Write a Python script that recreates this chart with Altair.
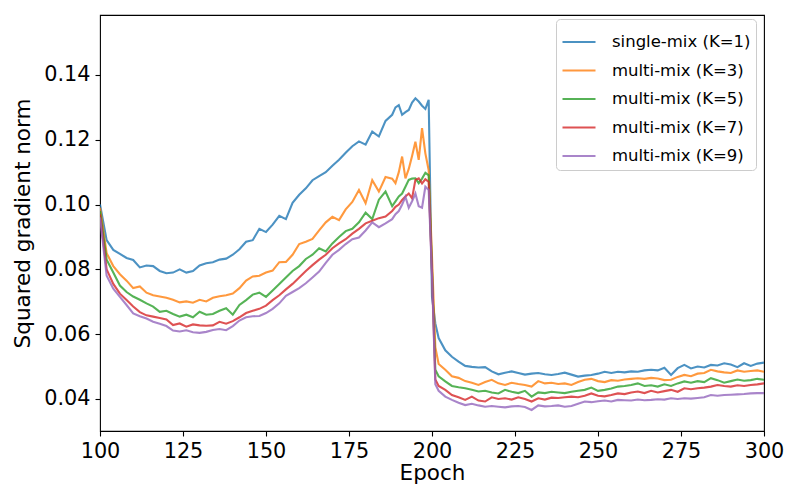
import altair as alt
import pandas as pd

epochs = list(range(100, 188, 2)) + list(range(188, 203)) + list(range(204, 301, 2))

k1 = [
    0.1000, 0.0890, 0.0860, 0.0848, 0.0835, 0.0829, 0.0806, 0.0812, 0.0810, 0.0795,
    0.0788, 0.0790, 0.0800, 0.0790, 0.0795, 0.0812, 0.0819, 0.0822, 0.0830, 0.0833,
    0.0845, 0.0862, 0.0885, 0.0890, 0.0925, 0.0915, 0.0938, 0.0965, 0.0955, 0.1005,
    0.1030, 0.1050, 0.1075, 0.1088, 0.1100, 0.1120, 0.1138, 0.1160, 0.1180, 0.1195,
    0.1185, 0.1225, 0.1210, 0.1258,
    0.1277, 0.1300, 0.1307, 0.1277, 0.1285, 0.1292, 0.1315, 0.1328, 0.1318, 0.1305,
    0.1295, 0.1323, 0.0715, 0.0633, 0.0588,
    0.0550, 0.0530, 0.0515, 0.0502, 0.0499, 0.0497, 0.0498, 0.0485, 0.0476, 0.0481,
    0.0485, 0.0480, 0.0475, 0.0478, 0.0480, 0.0476, 0.0474, 0.0477, 0.0481, 0.0475,
    0.0469, 0.0472, 0.0474, 0.0478, 0.0484, 0.0480, 0.0484, 0.0482, 0.0485, 0.0484,
    0.0488, 0.0490, 0.0488, 0.0496, 0.0474, 0.0495, 0.0505, 0.0494, 0.0500, 0.0497,
    0.0505, 0.0503, 0.0510, 0.0506, 0.0498, 0.0510, 0.0502, 0.0509, 0.0512,
]

k3 = [
    0.0990, 0.0850, 0.0810, 0.0785, 0.0765, 0.0742, 0.0747, 0.0728, 0.0720, 0.0716,
    0.0712, 0.0706, 0.0698, 0.0701, 0.0697, 0.0706, 0.0701, 0.0712, 0.0717, 0.0720,
    0.0725, 0.0742, 0.0765, 0.0778, 0.0780, 0.0790, 0.0796, 0.0822, 0.0823, 0.0845,
    0.0878, 0.0885, 0.0894, 0.0920, 0.0945, 0.0962, 0.0952, 0.0985, 0.1008, 0.1045,
    0.1004, 0.1075, 0.1040, 0.1085,
    0.1080, 0.1066, 0.1100, 0.1148, 0.1081, 0.1110, 0.1150, 0.1194, 0.1138, 0.1236,
    0.1158, 0.1106, 0.0838, 0.0560, 0.0508,
    0.0490, 0.0470, 0.0465, 0.0455, 0.0450, 0.0443, 0.0452, 0.0459, 0.0448, 0.0443,
    0.0450, 0.0446, 0.0443, 0.0438, 0.0455, 0.0448, 0.0450, 0.0446, 0.0448, 0.0443,
    0.0452, 0.0459, 0.0462, 0.0455, 0.0452, 0.0458, 0.0456, 0.0460, 0.0462, 0.0464,
    0.0462, 0.0465, 0.0463, 0.0458, 0.0459, 0.0468, 0.0474, 0.0470, 0.0478, 0.0480,
    0.0490, 0.0485, 0.0482, 0.0480, 0.0488, 0.0484, 0.0486, 0.0488, 0.0484,
]

k5 = [
    0.0980, 0.0830, 0.0790, 0.0750, 0.0730, 0.0716, 0.0706, 0.0695, 0.0685, 0.0669,
    0.0672, 0.0662, 0.0654, 0.0660, 0.0652, 0.0669, 0.0660, 0.0662, 0.0672, 0.0680,
    0.0660, 0.0690, 0.0705, 0.0722, 0.0728, 0.0715, 0.0735, 0.0755, 0.0775, 0.0795,
    0.0810, 0.0832, 0.0845, 0.0865, 0.0855, 0.0880, 0.0900, 0.0918, 0.0925, 0.0945,
    0.0975, 0.0955, 0.1015, 0.1040,
    0.0995, 0.1010, 0.1025, 0.1034, 0.1055, 0.1076, 0.1080, 0.1081, 0.1066, 0.1080,
    0.1098, 0.1090, 0.0800, 0.0490, 0.0470,
    0.0454, 0.0440, 0.0436, 0.0433, 0.0428, 0.0423, 0.0425, 0.0420, 0.0417, 0.0428,
    0.0422, 0.0418, 0.0425, 0.0407, 0.0420, 0.0418, 0.0422, 0.0420, 0.0418, 0.0422,
    0.0425, 0.0428, 0.0435, 0.0425, 0.0428, 0.0432, 0.0438, 0.0440, 0.0443, 0.0448,
    0.0440, 0.0442, 0.0438, 0.0445, 0.0440, 0.0448, 0.0454, 0.0450, 0.0455, 0.0452,
    0.0464, 0.0458, 0.0450, 0.0455, 0.0460, 0.0456, 0.0458, 0.0462, 0.0459,
]

k7 = [
    0.0970, 0.0800, 0.0755, 0.0725, 0.0705, 0.0685, 0.0668, 0.0658, 0.0654, 0.0650,
    0.0645, 0.0628, 0.0633, 0.0623, 0.0630, 0.0627, 0.0626, 0.0627, 0.0638, 0.0632,
    0.0640, 0.0652, 0.0665, 0.0672, 0.0678, 0.0688, 0.0705, 0.0720, 0.0738, 0.0755,
    0.0775, 0.0795, 0.0813, 0.0830, 0.0845, 0.0865, 0.0880, 0.0893, 0.0910, 0.0925,
    0.0942, 0.0950, 0.0958, 0.0963,
    0.0980, 0.0993, 0.1000, 0.1014, 0.1025, 0.1034, 0.1019, 0.1076, 0.1081, 0.1065,
    0.1078, 0.1070, 0.0790, 0.0460, 0.0440,
    0.0428, 0.0412, 0.0405, 0.0397, 0.0407, 0.0395, 0.0392, 0.0405, 0.0400, 0.0402,
    0.0398, 0.0405, 0.0400, 0.0392, 0.0402, 0.0398, 0.0404, 0.0403, 0.0405, 0.0407,
    0.0405, 0.0410, 0.0417, 0.0410, 0.0408, 0.0412, 0.0417, 0.0415, 0.0420, 0.0423,
    0.0418, 0.0425, 0.0420, 0.0424, 0.0428, 0.0422, 0.0433, 0.0430, 0.0433, 0.0435,
    0.0438, 0.0443, 0.0440, 0.0438, 0.0442, 0.0440, 0.0443, 0.0445, 0.0448,
]

k9 = [
    0.0960, 0.0780, 0.0740, 0.0715, 0.0690, 0.0664, 0.0655, 0.0648, 0.0638, 0.0632,
    0.0625, 0.0611, 0.0608, 0.0612, 0.0606, 0.0604, 0.0607, 0.0613, 0.0616, 0.0612,
    0.0625, 0.0642, 0.0652, 0.0655, 0.0656, 0.0665, 0.0678, 0.0695, 0.0718, 0.0730,
    0.0742, 0.0757, 0.0775, 0.0793, 0.0820, 0.0845, 0.0860, 0.0878, 0.0893, 0.0898,
    0.0920, 0.0945, 0.0930, 0.0942,
    0.0955, 0.0970, 0.0980, 0.1000, 0.1024, 0.0990, 0.1010, 0.1034, 0.0995, 0.0990,
    0.1055, 0.1045, 0.0780, 0.0445, 0.0425,
    0.0407, 0.0397, 0.0388, 0.0381, 0.0385, 0.0380, 0.0376, 0.0378, 0.0376, 0.0374,
    0.0377, 0.0378, 0.0375, 0.0366, 0.0380, 0.0377, 0.0378, 0.0380, 0.0376, 0.0378,
    0.0385, 0.0392, 0.0390, 0.0393, 0.0395, 0.0392, 0.0397, 0.0396, 0.0395, 0.0398,
    0.0396, 0.0397, 0.0399, 0.0398, 0.0402, 0.0400, 0.0402, 0.0401, 0.0403, 0.0405,
    0.0412, 0.0410, 0.0412, 0.0413, 0.0414, 0.0415, 0.0417, 0.0418, 0.0418,
]

names = ["single-mix (K=1)", "multi-mix (K=3)", "multi-mix (K=5)",
         "multi-mix (K=7)", "multi-mix (K=9)"]
colors = ["#1f77b4", "#ff7f0e", "#2ca02c", "#d62728", "#9467bd"]
x_ticks = [100, 125, 150, 175, 200, 225, 250, 275, 300]
y_ticks = [0.04, 0.06, 0.08, 0.10, 0.12, 0.14]

rows = []
for name, vals in zip(names, [k1, k3, k5, k7, k9]):
    for e, v in zip(epochs, vals):
        rows.append({"epoch": e, "value": v, "series": name})
df = pd.DataFrame(rows)

FONT = "DejaVu Sans"

base = alt.Chart(df).mark_line(strokeWidth=2.1, opacity=0.8, clip=True).encode(
    x=alt.X("epoch:Q",
            scale=alt.Scale(domain=[100, 300], nice=False, zero=False),
            axis=alt.Axis(values=x_ticks, format="d", title="Epoch",
                          labelFlush=False, labelOverlap=False)),
    y=alt.Y("value:Q",
            scale=alt.Scale(domain=[0.0301, 0.1585], nice=False, zero=False),
            axis=alt.Axis(values=y_ticks, format=".2f", title="Squared gradient norm",
                          labelFlush=False, labelOverlap=False)),
    color=alt.Color("series:N",
                    scale=alt.Scale(domain=names, range=colors),
                    legend=alt.Legend(title=None)),
)

layers = [base.transform_filter(alt.datum.series == n) for n in names]

chart = alt.layer(*layers).properties(
    width=664, height=416,
    autosize=alt.AutoSizeParams(type="none"),
    padding={"left": 92, "top": 7, "right": 28, "bottom": 61},
).configure_view(
    stroke="black", strokeWidth=1.1
).configure_axis(
    domain=False, grid=False,
    tickColor="black", tickSize=5, tickWidth=1.1,
    labelFont=FONT, labelFontSize=20.8, labelColor="black", labelPadding=5,
    titleFont=FONT, titleFontSize=21.5, titleColor="black", titleFontWeight="normal",
).configure_axisX(
    titlePadding=2
).configure_axisY(
    titlePadding=9
).configure_legend(
    orient="none", legendX=456, legendY=4,
    fillColor="white", strokeColor="#cccccc", cornerRadius=4, padding=5,
    symbolType="stroke", symbolSize=1089, symbolStrokeWidth=2.1, symbolOpacity=0.8,
    labelFont=FONT, labelFontSize=16.5, labelColor="black", labelOffset=15,
    rowPadding=1.5,
)

chart.save("out.html", embed_options={"renderer": "svg", "actions": False})
